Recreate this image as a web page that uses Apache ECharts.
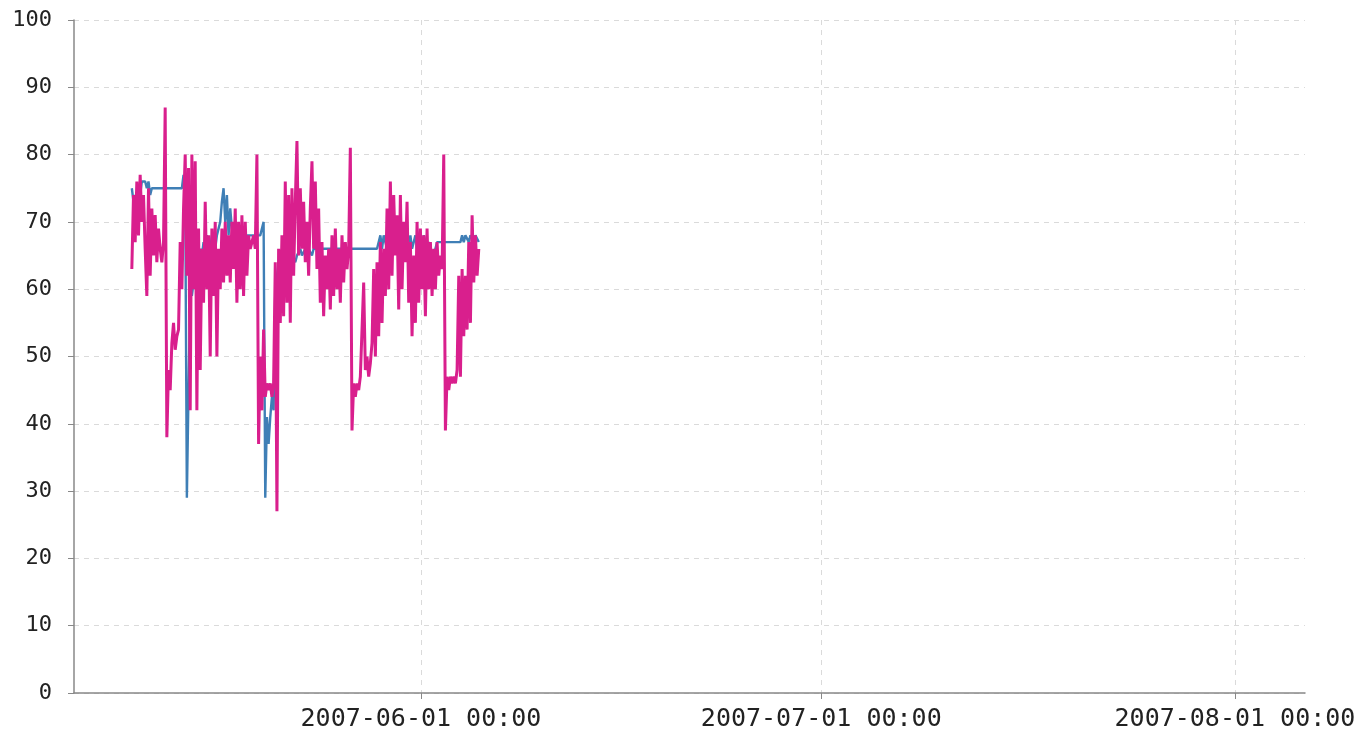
<!DOCTYPE html>
<html lang="en">
<head>
<meta charset="UTF-8">
<title>line chart</title>
<script src="https://cdn.jsdelivr.net/npm/echarts@6/dist/echarts.min.js"></script>
<style>
html,body{margin:0;padding:0;background:#fff;}
#main{width:1369px;height:738px;}
</style>
</head>
<body>
<div id="main"></div>
<script>
// samples every 3 hours from 2007-05-10 08:00
var startTime = Date.UTC(2007, 4, 10, 8, 0);
var stepHours = 3;
var monthTicks = [Date.UTC(2007, 5, 1), Date.UTC(2007, 6, 1), Date.UTC(2007, 7, 1)];
var yTicks = [0, 10, 20, 30, 40, 50, 60, 70, 80, 90, 100];

var blueValues = [
    75, 73, 74,
    72, 70, 74, 76, 76,
    76, 75, 76, 74,
    75, 75, 75, 75, 75, 75, 75, 75, 75, 75, 75, 75, 75, 75, 75, 75, 75, 75,
    75, 77, 75,
    29, 45, 60, 59, 61,
    63, 65, 64, 66, 65, 67, 66, 68, 67, 66, 68, 67, 66, 68, 69, 70,
    73, 75, 70, 74, 68, 72, 69,
    68, 68, 68, 68, 68, 68, 68, 68, 68, 68, 68, 68, 68, 68, 68, 68, 68, 68,
    70, 29, 41, 37, 41, 44, 42, 60, 62,
    64, 63, 64, 64, 65, 64, 65, 64, 65, 65, 64, 65, 65, 66, 65, 65, 66, 65, 66, 66, 65, 66, 66,
    66, 66, 66, 66, 66, 66, 66, 66, 66, 66, 66, 66, 66, 66, 66, 66, 66, 66, 66,
    66, 66, 66, 66, 66, 66, 66, 66, 66, 66, 66, 66, 66, 66, 66, 66, 66, 66, 66,
    68, 66, 68, 67, 66, 68, 68, 66, 67, 68, 66, 68, 67, 66, 68,
    68, 67, 66, 68, 66, 67, 68, 66, 68, 67, 66, 68, 67, 66, 67,
    66, 66, 65, 66, 67, 67, 67,
    67, 67, 67, 67, 67, 67, 67, 67, 67, 67, 67,
    67, 68, 67, 68, 68, 67, 68, 68, 67, 68, 68, 67
];

var magentaValues = [
    63, 74, 67, 76, 68, 77, 70, 74, 66, 59,
    75, 62, 72, 65, 71, 64, 69, 66, 64, 67,
    87, 38, 48, 45, 52, 55, 51, 53, 54, 67,
    60, 72, 80, 62, 78, 42, 80, 60, 79, 42,
    69, 48, 66, 58, 73, 60, 68, 50, 69, 59,
    70, 50, 66, 60, 69, 61, 70, 62, 68, 61,
    70, 63, 72, 58, 70, 60, 71, 59, 70, 62,
    68, 66, 67, 68, 66, 80, 37, 50, 42, 54,
    44, 46, 45, 46, 44, 46, 64, 27, 66, 55,
    68, 56, 76, 58, 74, 55, 75, 62, 73, 82,
    65, 75, 66, 73, 64, 70, 62, 72, 79, 66,
    76, 63, 72, 58, 67, 56, 65, 60, 66, 57,
    68, 59, 69, 60, 66, 58, 68, 61, 67, 63,
    66, 81, 39, 46, 44, 46, 45, 47, 47, 61,
    48, 50, 47, 49, 52, 63, 50, 64, 53, 67,
    55, 66, 59, 72, 60, 76, 62, 74, 65, 71,
    57, 74, 60, 70, 64, 73, 58, 67, 53, 65,
    55, 70, 58, 69, 60, 68, 56, 69, 60, 67,
    59, 66, 60, 67, 62, 65, 63, 80, 39, 47,
    45, 47, 46, 47, 46, 48, 62, 47, 63, 53,
    62, 54, 67, 55, 71, 61, 68, 62, 66
];

function pairs(values) {
    var out = [];
    for (var i = 0; i < values.length; i++) {
        out.push([startTime + i * stepHours * 3600000, values[i]]);
    }
    return out;
}

function pad(n) { return n < 10 ? '0' + n : '' + n; }
function fmtTime(v) {
    var d = new Date(v);
    return d.getUTCFullYear() + '-' + pad(d.getUTCMonth() + 1) + '-' + pad(d.getUTCDate()) +
        ' ' + pad(d.getUTCHours()) + ':' + pad(d.getUTCMinutes());
}

var myChart = echarts.init(document.getElementById('main'));
var option = {
    animation: false,
    backgroundColor: '#fff',
    grid: { left: 74, right: 64, top: 20, bottom: 45, containLabel: false },
    xAxis: {
        type: 'value',
        min: Date.UTC(2007, 4, 6),
        max: Date.UTC(2007, 7, 6, 6),
        axisLine: { onZero: false, lineStyle: { color: '#888', width: 1.5 } },
        axisTick: { show: true, length: 6, customValues: monthTicks, lineStyle: { color: '#888' } },
        axisLabel: {
            customValues: monthTicks,
            formatter: fmtTime,
            margin: 14,
            color: '#222',
            fontFamily: 'DejaVu Sans Mono',
            fontSize: 25
        },
        splitLine: { show: true, lineStyle: { color: '#dadada', type: [5, 5], width: 1 } }
    },
    yAxis: {
        type: 'value',
        min: 0,
        max: 100,
        interval: 10,
        axisLine: { show: true, lineStyle: { color: '#888', width: 1.5 } },
        axisTick: { show: true, length: 6, lineStyle: { color: '#888' } },
        axisLabel: {
            customValues: yTicks,
            margin: 22,
            color: '#222',
            fontFamily: 'DejaVu Sans Mono',
            fontSize: 22
        },
        splitLine: { show: true, lineStyle: { color: '#dadada', type: [5, 5], width: 1 } }
    },
    series: [
        {
            name: 'blue',
            type: 'line',
            showSymbol: false,
            data: pairs(blueValues),
            lineStyle: { color: '#3f7fb6', width: 2.4 },
            itemStyle: { color: '#3f7fb6' }
        },
        {
            name: 'magenta',
            type: 'line',
            showSymbol: false,
            data: pairs(magentaValues),
            lineStyle: { color: '#d91f8d', width: 3 },
            itemStyle: { color: '#d91f8d' }
        }
    ]
};
myChart.setOption(option);
</script>
</body>
</html>
